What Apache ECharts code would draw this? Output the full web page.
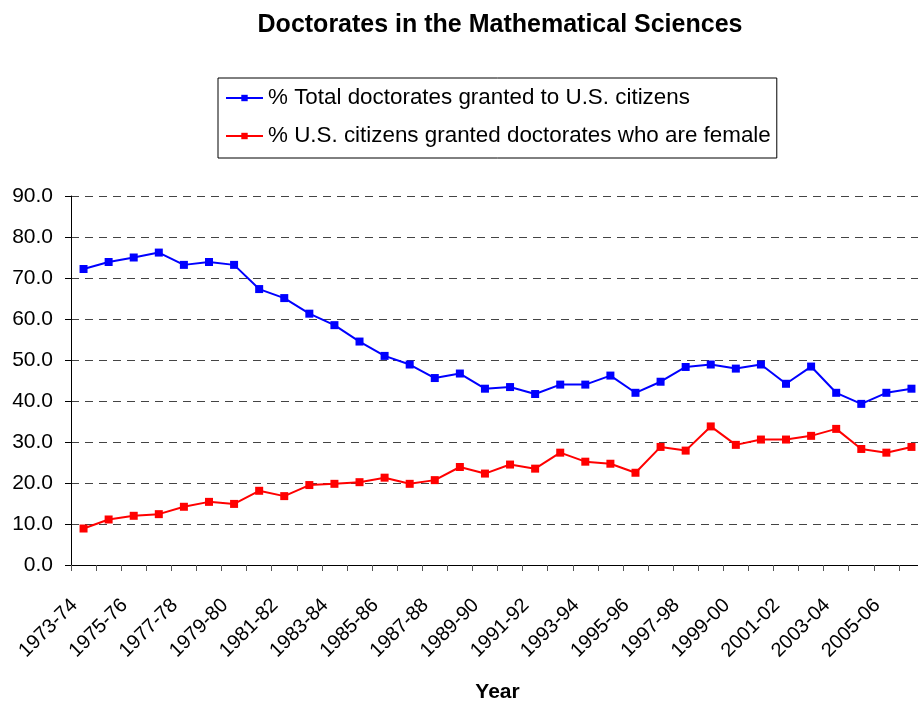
<!DOCTYPE html>
<html>
<head>
<meta charset="utf-8">
<script src="https://cdn.jsdelivr.net/npm/echarts@6/dist/echarts.min.js"></script>
<style>
  html, body { margin: 0; padding: 0; background: #fff; }
  #main { width: 918px; height: 703px; }
</style>
</head>
<body>
<div id="main"></div>
<script>
	// academic years, 1973-74 .. 2006-07
	var years = [
	    '1973-74', '1974-75', '1975-76', '1976-77', '1977-78', '1978-79', '1979-80',
	    '1980-81', '1981-82', '1982-83', '1983-84', '1984-85', '1985-86', '1986-87',
	    '1987-88', '1988-89', '1989-90', '1990-91', '1991-92', '1992-93', '1993-94',
	    '1994-95', '1995-96', '1996-97', '1997-98', '1998-99', '1999-00', '2000-01',
	    '2001-02', '2002-03', '2003-04', '2004-05', '2005-06', '2006-07'
	];

	var usCitizens = [
	    72.2, 73.9, 75.0, 76.2, 73.2, 73.9, 73.2, 67.3, 65.1, 61.3, 58.5, 54.5,
	    51.0, 48.9, 45.6, 46.7, 43.0, 43.4, 41.7, 44.0, 44.0, 46.2, 42.0, 44.7,
	    48.3, 48.9, 47.9, 48.9, 44.2, 48.4, 42.0, 39.3, 42.0, 43.0
	];

	var femaleCitizens = [
	    8.9, 11.1, 12.0, 12.4, 14.2, 15.4, 14.9, 18.1, 16.8, 19.5, 19.8, 20.2,
	    21.3, 19.8, 20.7, 23.9, 22.3, 24.5, 23.5, 27.4, 25.2, 24.7, 22.5, 28.8,
	    27.9, 33.8, 29.3, 30.6, 30.6, 31.5, 33.2, 28.3, 27.4, 28.8
	];

	var seriesNames = [
	    '% Total doctorates granted to U.S. citizens',
	    '% U.S. citizens granted doctorates who are female'
	];

	var font = 'Liberation Sans, Arial, sans-serif';
	var chart = echarts.init(document.getElementById('main'));

	var option = {
	    backgroundColor: '#fff',
	    animation: false,
	    title: {
	        text: 'Doctorates in the Mathematical Sciences',
	        left: 495,
	        textAlign: 'center',
	        top: 8,
	        textStyle: {
	            color: '#000',
	            fontFamily: font,
	            fontWeight: 'bold',
	            fontSize: 25
	        }
	    },
	    legend: {
	        orient: 'vertical',
	        left: 218,
	        top: 78,
	        padding: [9, 6, 11, 7],
	        itemGap: 16,
	        itemWidth: 37,
	        itemHeight: 8,
	        borderColor: '#000',
	        borderWidth: 1,
	        textStyle: {
	            color: '#000',
	            fontFamily: font,
	            fontSize: 22.4
	        },
	        data: seriesNames
	    },
	    grid: {
	        left: 71,
	        right: -6,
	        top: 196,
	        bottom: 138,
	        containLabel: false,
	        outerBoundsMode: 'none'
	    },
	    xAxis: {
	        type: 'category',
	        data: years,
	        boundaryGap: true,
	        name: 'Year',
	        nameLocation: 'middle',
	        nameGap: 117,
	        nameTextStyle: {
	            color: '#000',
	            fontFamily: font,
	            fontWeight: 'bold',
	            fontSize: 21
	        },
	        axisLine: { lineStyle: { color: '#000', width: 1 } },
	        axisTick: {
	            show: true,
	            interval: 0,
	            length: 6,
	            lineStyle: { color: '#555' }
	        },
	        axisLabel: {
	            interval: 1,
	            rotate: 45,
	            margin: 28,
	            padding: [0, 13, 0, 0],
	            color: '#000',
	            fontFamily: font,
	            fontSize: 20
	        },
	        splitLine: { show: false }
	    },
	    yAxis: {
	        type: 'value',
	        min: 0,
	        max: 90,
	        interval: 10,
	        axisLine: { show: true, lineStyle: { color: '#000', width: 1 } },
	        axisTick: {
	            show: true,
	            length: 6,
	            lineStyle: { color: '#000' }
	        },
	        axisLabel: {
	            margin: 18,
	            color: '#000',
	            fontFamily: font,
	            fontSize: 21,
	            formatter: function (v) { return v.toFixed(1); }
	        },
	        splitLine: {
	            show: true,
	            lineStyle: { color: '#444', type: [8, 6], width: 1 }
	        }
	    },
	    series: [
	        {
	            name: seriesNames[0],
	            type: 'line',
	            data: usCitizens,
	            symbol: 'rect',
	            symbolSize: 8,
	            itemStyle: { color: '#0000ff' },
	            lineStyle: { color: '#0000ff', width: 2 }
	        },
	        {
	            name: seriesNames[1],
	            type: 'line',
	            data: femaleCitizens,
	            symbol: 'rect',
	            symbolSize: 8,
	            itemStyle: { color: '#ff0000' },
	            lineStyle: { color: '#ff0000', width: 2 }
	        }
	    ]
	};

	chart.setOption(option);
</script>
</body>
</html>
